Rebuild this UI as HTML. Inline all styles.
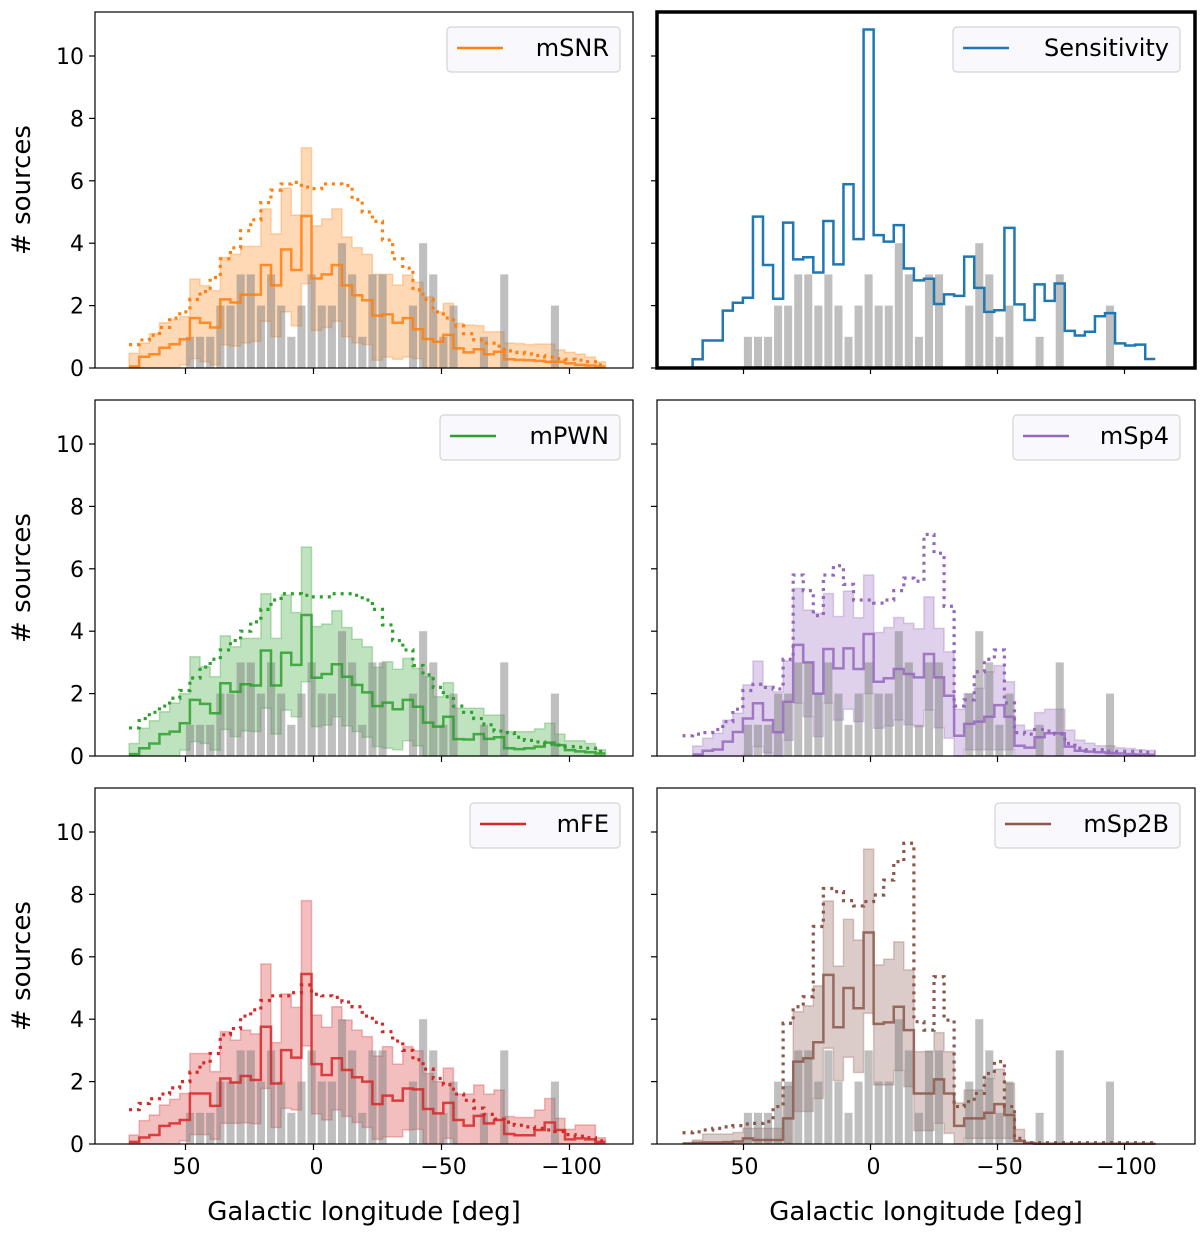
<!DOCTYPE html>
<html><head><meta charset="utf-8"><style>
html,body{margin:0;padding:0;background:#fff;}
svg{display:block;font-family:"DejaVu Sans","Liberation Sans",sans-serif;}
</style></head><body>
<svg id="fig" width="1200" height="1235" viewBox="0 0 1200 1235" xmlns="http://www.w3.org/2000/svg"></svg>
<script>
// ---- data ----
const binMax = 74;          // longitude of first bin edge (deg)
const binWidth = 3.96;      // deg
const yTicks = [0, 2, 4, 6, 8, 10];
const xTicks = [50, 0, -50, -100];
const xTickLabels = ["50", "0", "\u221250", "\u2212100"];
const grayCounts = [0,0,0,0,0,0,1,1,1,2,2,3,3,2,3,2,1,2,3,2,2,4,3,1,3,3,0,0,2,4,3,1,2,0,0,1,0,3,0,0,0,0,2,0,0,0,0];
const sensValues = [null,0.28,0.88,0.88,1.84,2.09,2.25,4.85,3.3,2.22,4.66,3.48,3.55,3.06,4.71,3.32,5.89,4.13,10.85,4.26,4.05,4.58,3.19,2.81,2.86,2.05,2.36,2.31,3.57,2.57,1.8,1.85,4.49,2.04,1.54,2.68,2.15,2.71,1.19,1.04,1.16,1.66,1.76,0.79,0.72,0.75,0.29];

const snrMed = [0.05,0.36,0.44,0.65,0.76,0.92,1.6,1.45,1.3,2.2,2.1,2.35,2.35,3.3,2.65,3.8,3.14,4.87,2.87,3.0,3.3,2.65,2.33,2.17,1.68,1.72,1.45,1.6,1.24,0.93,0.84,1.06,0.63,0.5,0.6,0.44,0.52,0.28,0.26,0.25,0.23,0.2,0.2,0.15,0.1,0.08,0.05];
const snrHi = [0.47,0.8,1.1,1.45,1.55,1.65,2.85,2.64,2.48,3.54,3.64,3.9,3.9,5.1,4.3,5.76,4.9,7.06,4.56,4.78,5.1,4.2,3.86,3.64,3.0,3.0,2.66,2.98,2.75,2.28,1.8,2.07,1.43,1.38,1.36,1.16,1.16,0.8,0.78,0.75,0.77,0.77,0.58,0.5,0.45,0.35,0.2];
const snrLo = [0,0,0,0,0,0.1,0.3,0.2,0.1,0.74,0.7,0.8,0.85,1.5,1.0,1.8,1.35,2.7,1.2,1.3,1.5,1.0,0.8,0.75,0.25,0.35,0.28,0.35,0.3,0,0,0,0,0,0,0,0,0,0,0,0,0,0,0,0,0,0];
const snrDot = [0.75,0.9,1.05,1.3,1.6,1.8,2.2,2.45,2.9,3.5,3.85,4.4,4.75,5.3,5.7,5.9,5.95,5.8,5.75,5.9,5.9,5.85,5.4,5.0,4.7,4.1,3.5,3.2,2.5,2.2,1.8,1.6,1.35,1.1,0.9,0.8,0.7,0.55,0.5,0.45,0.4,0.35,0.3,0.28,0.25,0.2,0.1];

const pwnMed = [0.06,0.25,0.4,0.7,0.78,1.05,1.8,1.67,1.37,2.33,2.06,2.3,2.26,3.38,2.26,3.31,2.92,4.52,2.51,2.63,2.94,2.54,2.28,2.04,1.6,1.71,1.5,1.8,1.58,1.07,0.94,1.26,0.54,0.53,0.7,0.55,0.6,0.25,0.22,0.25,0.3,0.43,0.35,0.19,0.15,0.12,0.08];
const pwnHi = [0.4,0.89,1.13,1.42,1.7,2.0,3.18,2.86,2.54,3.85,3.5,3.77,3.77,5.2,3.77,5.16,4.6,6.7,4.15,4.23,4.66,4.12,3.74,3.5,2.84,3.02,2.78,3.13,2.81,2.54,1.9,2.35,1.53,1.53,1.53,1.31,1.31,0.78,0.78,0.78,0.87,1.05,0.7,0.49,0.49,0.4,0.2];
const pwnLo = [0,0,0,0,0,0.19,0.46,0.4,0.19,0.85,0.62,0.8,0.78,1.53,0.7,1.47,1.26,2.38,0.94,0.99,1.26,0.96,0.78,0.6,0.3,0.25,0.2,0.49,0.32,0,0,0,0,0,0,0,0,0,0,0,0,0,0,0,0,0,0];
const pwnDot = [0.9,1.2,1.4,1.6,1.85,2.1,2.5,2.85,3.1,3.4,3.7,4.0,4.3,4.7,5.0,5.2,5.2,5.15,5.1,5.1,5.2,5.2,5.15,5.0,4.7,4.2,3.7,3.4,2.9,2.6,2.2,1.9,1.6,1.4,1.2,1.0,0.8,0.75,0.6,0.5,0.45,0.38,0.35,0.3,0.28,0.25,0.15];

const feMed = [0.07,0.21,0.29,0.58,0.66,0.77,1.62,1.62,1.22,2.1,1.97,2.18,2.05,3.76,1.94,3.01,2.77,5.45,2.56,2.21,2.75,2.37,2.14,2.0,1.28,1.55,1.39,1.78,1.75,1.12,0.98,1.32,0.77,0.59,0.9,0.66,0.77,0.32,0.28,0.28,0.45,0.69,0.45,0.15,0.18,0.15,0.07];
const feHi = [0.29,0.75,0.93,1.25,1.43,1.62,2.9,2.9,2.32,3.6,3.33,3.65,3.53,5.77,3.25,4.81,4.38,7.8,4.13,3.74,4.4,3.97,3.65,3.44,2.82,3.12,2.56,3.12,2.99,2.26,2.0,2.43,1.6,1.6,1.89,1.6,1.73,0.88,0.85,0.85,1.09,1.46,0.82,0.47,0.61,0.61,0.2];
const feLo = [0,0,0,0,0,0.1,0.3,0.3,0.15,0.66,0.66,0.68,0.65,1.78,0.53,1.14,1.09,3.14,0.96,0.77,1.09,0.88,0.69,0.53,0.15,0.23,0.23,0.45,0.47,0,0,0.18,0,0,0,0,0,0,0,0,0,0,0,0,0,0,0];
const feDot = [1.1,1.3,1.45,1.6,1.8,2.0,2.3,2.6,2.9,3.5,3.7,4.1,4.3,4.6,4.75,4.75,4.85,5.1,4.8,4.75,4.7,4.55,4.4,4.1,3.9,3.6,3.3,3.0,2.7,2.4,2.1,1.9,1.6,1.4,1.15,0.95,0.8,0.7,0.6,0.55,0.5,0.45,0.4,0.3,0.25,0.2,0.1];

const sp4Med = [null,0.05,0.17,0.21,0.46,0.77,1.2,1.69,1.15,0.76,1.74,3.56,3.0,2.0,3.43,2.81,3.45,2.79,3.91,2.38,2.49,2.79,2.63,2.52,3.27,2.52,1.93,0.65,1.03,1.1,1.26,1.63,1.26,0.33,0.27,0.6,0.73,0.73,0.3,0.17,0.14,0.12,0.1,0.08,0.06,0.05,0.04];
const sp4Hi = [null,0.32,0.57,0.73,1.15,1.37,2.28,3.04,2.24,2.06,3.05,5.37,4.68,4.57,5.21,4.47,5.29,4.43,5.8,3.96,4.12,4.44,4.25,4.08,5.1,4.09,3.34,1.5,2.0,2.17,2.7,2.9,2.38,0.99,0.83,1.39,1.5,1.5,0.83,0.51,0.41,0.33,0.33,0.26,0.24,0.2,0.18];
const sp4Lo = [null,0,0,0,0,0,0.05,0.3,0.1,0,0.5,1.69,1.26,0.62,1.69,1.15,1.5,1.1,2.0,0.89,0.96,1.15,1.0,0.94,1.47,0.9,0.57,0,0.2,0.2,0.2,0.2,0.2,0,0,0,0,0,0,0,0,0,0,0,0,0,0];
const sp4Dot = [0.65,0.7,0.75,0.85,1.1,1.5,2.1,2.3,2.2,2.15,3.1,5.8,5.3,4.5,5.8,6.1,5.5,5.0,5.0,4.9,5.0,5.3,5.7,5.6,7.1,6.5,4.8,1.6,1.8,2.7,3.1,3.4,1.7,0.75,0.7,0.85,0.8,0.7,0.4,0.25,0.2,0.2,0.15,0.15,0.15,0.15,0.12];

const sp2bMed = [0.02,0.04,0.05,0.05,0.06,0.08,0.18,0.13,0.13,0.13,0.82,2.64,2.75,3.26,5.42,3.74,5.0,4.35,6.78,3.85,3.9,4.4,3.65,1.62,1.62,2.07,1.62,0.58,0.82,0.82,1.0,1.28,0.93,0.1,0.03,0.01,0.01,0.01,0.01,0.01,0.01,0.01,0.01,0.01,0.01,0.01,0.01];
const sp2bHi = [null,0.13,0.32,0.32,0.32,0.37,0.5,0.5,0.5,0.5,1.84,4.24,4.43,5.07,7.79,5.7,7.2,6.54,9.45,5.74,5.92,6.48,5.58,2.96,2.96,3.57,2.96,1.32,1.73,1.73,2.1,2.4,1.94,0.47,0.07,0.02,0.02,0.02,0.02,0.02,0.02,0.02,0.02,0.02,0.02,0.02,0.02];
const sp2bLo = [null,0,0,0,0,0,0,0,0,0,0.02,1.04,1.04,1.46,3.07,2.03,2.78,2.29,4.19,1.89,1.89,2.35,1.84,0.43,0.43,0.66,0.34,0,0.18,0.18,0.18,0.18,0.18,0,0,0,0,0,0,0,0,0,0,0,0,0,0];
const sp2bDot = [0.36,0.39,0.45,0.5,0.55,0.59,0.64,0.66,0.72,1.2,3.87,4.4,4.72,6.97,8.19,8.09,7.8,7.63,7.77,7.98,8.46,9.05,9.64,3.92,3.65,5.36,3.97,1.2,1.36,1.62,2.26,2.64,1.2,0.18,0.04,0.04,0.04,0.04,0.04,0.04,0.04,0.04,0.04,0.04,0.04,0.04,0.04];

// ---- layout ----
const NS = "http://www.w3.org/2000/svg";
const svg = document.getElementById("fig");
const unitPx = 31.2;
const panels = [
  {name:"msnr", label:"mSNR", color:"#ff7f0e", fill:"255,127,14", left:95, top:12, base:368, x0:313.5, s:2.56, mx:5, med:snrMed, hi:snrHi, lo:snrLo, dot:snrDot, lg:[447,27,173], ylab:true, xlab:false},
  {name:"sensitivity", label:"Sensitivity", color:"#1f77b4", left:657, top:12, base:368, x0:870.5, s:2.54, mx:0, sens:sensValues, lg:[953,27,227], ylab:false, xlab:false, thick:true},
  {name:"mpwn", label:"mPWN", color:"#2ca02c", fill:"44,160,44", left:95, top:400, base:756, x0:313.5, s:2.56, mx:5, med:pwnMed, hi:pwnHi, lo:pwnLo, dot:pwnDot, lg:[440,415,180], ylab:true, xlab:false},
  {name:"msp4", label:"mSp4", color:"#9467bd", fill:"148,103,189", left:657, top:400, base:756, x0:870.5, s:2.54, mx:0, med:sp4Med, hi:sp4Hi, lo:sp4Lo, dot:sp4Dot, lg:[1013,415,167], ylab:false, xlab:false},
  {name:"mfe", label:"mFE", color:"#d62728", fill:"214,39,40", left:95, top:788, base:1144, x0:313.5, s:2.56, mx:5, med:feMed, hi:feHi, lo:feLo, dot:feDot, lg:[470,803,150], ylab:true, xlab:true},
  {name:"msp2b", label:"mSp2B", color:"#8c564b", fill:"140,86,75", left:657, top:788, base:1144, x0:870.5, s:2.54, mx:0, med:sp2bMed, hi:sp2bHi, lo:sp2bLo, dot:sp2bDot, lg:[995,803,185], ylab:false, xlab:true}
];
const W = 538;

function mk(tag, attrs, parent){
  const el = document.createElementNS(NS, tag);
  for (const k in attrs) el.setAttribute(k, attrs[k]);
  (parent || svg).appendChild(el);
  return el;
}
function edge(p, k){ const l = binMax - k*binWidth; return p.x0 - p.s*l; }
function medge(p, k){ return edge(p,k) + p.mx; }
function xl(p, l){ return p.x0 - p.s*l; }
function yv(p, v){ return p.base - v*unitPx; }
function stepPath(p, arr, ef){
  let d = "", started = false;
  for (let k=0;k<arr.length;k++){
    if (arr[k]===null) continue;
    const y = yv(p, arr[k]);
    if (!started){ d += "M"+ef(p,k)+","+y; started = true; }
    else d += "L"+ef(p,k)+","+y;
    d += "L"+ef(p,k+1)+","+y;
  }
  return d;
}
function bandPath(p, hi, lo){
  let top = [], bot = [];
  for (let k=0;k<hi.length;k++){
    if (hi[k]===null) continue;
    top.push([medge(p,k),yv(p,hi[k])],[medge(p,k+1),yv(p,hi[k])]);
    bot.push([medge(p,k),yv(p,lo[k])],[medge(p,k+1),yv(p,lo[k])]);
  }
  bot.reverse();
  return "M"+top.concat(bot).map(q=>q[0]+","+q[1]).join("L")+"Z";
}

panels.forEach(p=>{
  const g = mk("g", {});
  
  

  if (p.hi){
    const band = mk("path", {d:bandPath(p,p.hi,p.lo), fill:"rgba("+p.fill+",0.3)", stroke:"rgba("+p.fill+",0.3)", "stroke-width":1.5}, g);
    
    
  }
  for (let k=0;k<grayCounts.length;k++){
    if (!grayCounts[k]) continue;
    const x1 = edge(p,k), x2 = edge(p,k+1), w = (x2-x1)*0.8;
    const bar = mk("rect", {x:x1+(x2-x1-w)/2, y:yv(p,grayCounts[k]), width:w, height:grayCounts[k]*unitPx, fill:"rgba(128,128,128,0.5)"}, g);
    
    
  }
  if (p.sens){
    let k0 = p.sens.findIndex(v=>v!==null);
    const line = mk("path", {d:"M"+edge(p,k0)+","+p.base+stepPath(p,p.sens,edge).replace(/^M/,"L"), fill:"none", stroke:p.color, "stroke-width":2.5}, g);
    
    
  }
  if (p.med){
    const med = mk("path", {d:stepPath(p,p.med,medge), fill:"none", stroke:p.color, "stroke-width":2.5, opacity:0.85}, g);
    
    
    const dot = mk("path", {d:stepPath(p,p.dot,medge), fill:"none", stroke:p.color, "stroke-width":3.2, "stroke-dasharray":"3 5"}, g);
    
    
  }
  const frame = mk("rect", {x:p.left, y:p.top, width:W, height:p.base-p.top, fill:"none", stroke:"#000", "stroke-width":p.thick?3.5:1.2}, g);
  
  
  yTicks.forEach(t=>{
    const y = yv(p,t);
    const tk = mk("line", {x1:p.left-6, x2:p.left, y1:y, y2:y, stroke:"#000", "stroke-width":1.2}, g);
    
    
    if (p.ylab){
      const tx = mk("text", {x:p.left-11, y:y+8, "text-anchor":"end", "font-size":22, fill:"#000"}, g);
      
      
      tx.textContent = String(t);
    }
  });
  xTicks.forEach((t,i)=>{
    const x = xl(p,t);
    const tk = mk("line", {x1:x, x2:x, y1:p.base, y2:p.base+6, stroke:"#000", "stroke-width":1.2}, g);
    
    
    if (p.xlab){
      const tx = mk("text", {x:x+ (i===0?1:(i===1?3:2)), y:p.base+30, "text-anchor":"middle", "font-size":22, fill:"#000"}, g);
      
      
      tx.textContent = xTickLabels[i];
    }
  });
  if (p.ylab){
    const cy = (p.top+p.base)/2;
    const yt = mk("text", {x:0, y:0, transform:"translate(30,"+cy+") rotate(-90)", "text-anchor":"middle", "font-size":26, fill:"#000"}, g);
    
    
    yt.textContent = "# sources";
  }
  if (p.xlab){
    const xt = mk("text", {x:p.left+W/2, y:1220, "text-anchor":"middle", "font-size":26, fill:"#000"}, g);
    
    
    xt.textContent = "Galactic longitude [deg]";
  }
  const lg = mk("g", {}, g);
  
  
  const [lx, ly, lw] = p.lg;
  const box = mk("rect", {x:lx, y:ly, width:lw, height:45, rx:4, fill:"#f8f8fd", stroke:"#d4d4d4", "stroke-width":1.2}, lg);
  
  
  const sw = mk("line", {x1:lx+10, x2:lx+56, y1:ly+21, y2:ly+21, stroke:p.color, "stroke-width":2.5}, lg);
  
  
  const lt = mk("text", {x:lx+lw-11, y:ly+29, "text-anchor":"end", "font-size":24, fill:"#000"}, lg);
  
  
  lt.textContent = p.label;
});
</script>
</body></html>
